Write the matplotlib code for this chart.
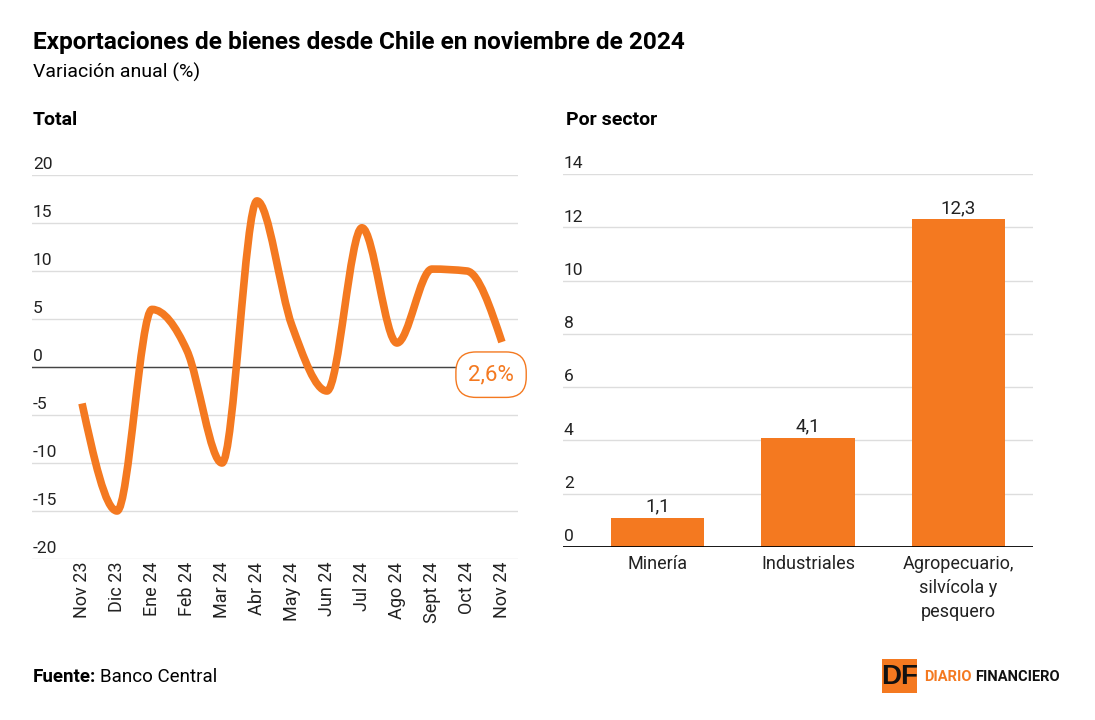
import numpy as np
import matplotlib
matplotlib.use("Agg")
import matplotlib.pyplot as plt
from matplotlib.path import Path
from matplotlib.patches import PathPatch, Rectangle

# data
months = ["Nov 23", "Dic 23", "Ene 24", "Feb 24", "Mar 24", "Abr 24", "May 24",
          "Jun 24", "Jul 24", "Ago 24", "Sept 24", "Oct 24", "Nov 24"]
total = [-3.8, -15.0, 6.0, 1.7, -10.0, 17.3, 4.3, -2.5, 14.5, 2.5, 10.2, 10.0, 2.6]
sectors = ["Minería", "Industriales", "Agropecuario,\nsilvícola y\npesquero"]
sector_vals = [1.1, 4.1, 12.3]
last_label = "2,6%"

ORANGE = "#F47920"
GRID = "#dddddd"
REG = ["Roboto", "DejaVu Sans"]


def monotone_path(x, y):
    # monotone cubic (like d3 curveMonotoneX) built as bezier segments
    x = np.asarray(x, float)
    y = np.asarray(y, float)
    h = np.diff(x)
    s = np.diff(y) / h
    n = len(x)
    t = np.zeros(n)
    for i in range(1, n - 1):
        p = (s[i-1] * h[i] + s[i] * h[i-1]) / (h[i-1] + h[i])
        t[i] = (np.sign(s[i-1]) + np.sign(s[i])) * min(abs(s[i-1]), abs(s[i]), 0.5 * abs(p))
    t[0] = (3 * s[0] - t[1]) / 2
    t[-1] = (3 * s[-1] - t[-2]) / 2
    verts = [(x[0], y[0])]
    codes = [Path.MOVETO]
    for i in range(n - 1):
        d = h[i] / 3
        verts += [(x[i] + d, y[i] + d * t[i]), (x[i+1] - d, y[i+1] - d * t[i+1]), (x[i+1], y[i+1])]
        codes += [Path.CURVE4] * 3
    return Path(verts, codes)


fig = plt.figure(figsize=(10.95, 7.2), dpi=100)
W, H = 1095, 720

def fx(px):
    return px / W

def fy(py):
    return 1 - py / H

fig.text(fx(33), fy(42), "Exportaciones de bienes desde Chile en noviembre de 2024",
         family=REG, weight="bold", fontsize=17.6, va="center", ha="left")
fig.text(fx(33), fy(72), "Variación anual (%)", family=REG, fontsize=14, va="center", ha="left")
fig.text(fx(33), fy(120), "Total", family=REG, weight="bold", fontsize=14, va="center")
fig.text(fx(566), fy(120), "Por sector", family=REG, weight="bold", fontsize=14, va="center")
fig.text(fx(33), fy(677), "Fuente:", family=REG, weight="bold", fontsize=13.5, va="center")
fig.text(fx(100), fy(677), "Banco Central", family=REG, fontsize=13.5, va="center")

# logo
fig.patches.append(Rectangle((fx(882), fy(693)), fx(35), 34 / H, transform=fig.transFigure,
                             facecolor=ORANGE, edgecolor="none"))
fig.text(fx(899.5), fy(677), "DF", family=["Liberation Sans", "DejaVu Sans"], weight="bold",
         fontsize=20, ha="center", va="center", color="#111111")
fig.text(fx(924), fy(677), "DIARIO", family=REG, weight="bold",
         fontsize=10.5, ha="left", va="center", color=ORANGE)
fig.text(fx(975), fy(677), "FINANCIERO", family=REG, weight="bold",
         fontsize=10.5, ha="left", va="center", color="#111111")

# left: line chart
ax = fig.add_axes([fx(32), fy(559), fx(518 - 32), (559 - 175) / H])
x = np.arange(len(months))
ax.set_xlim(-1.43, 12.46)
ax.set_ylim(-20, 20)
for v in range(-20, 21, 5):
    ax.axhline(v, color=GRID, lw=1, zorder=0)
    ax.text(0.002, v + 0.35, str(v), transform=ax.get_yaxis_transform(), family=REG,
            fontsize=12.5, ha="left", va="bottom", color="#222222")
ax.axhline(0, color="#444444", lw=1, zorder=1)
ax.add_patch(PathPatch(monotone_path(x, total), facecolor="none", edgecolor=ORANGE,
                       lw=5.5, capstyle="butt", joinstyle="round", zorder=3))
ax.text(x[-1] - 0.31, -0.8, last_label, family=REG, fontsize=16, color=ORANGE,
        ha="center", va="center", zorder=5,
        bbox=dict(boxstyle="round,pad=0.55,rounding_size=0.9", facecolor="white",
                  edgecolor=ORANGE, lw=1))
ax.set_xticks(x)
ax.set_xticklabels(months, rotation=90, family=REG, fontsize=13, color="#222222")
ax.tick_params(axis="x", length=0, pad=2)
ax.set_yticks([])
for sp in ax.spines.values():
    sp.set_visible(False)

# right: bar chart
bx = fig.add_axes([fx(563), fy(547), fx(1033 - 563), (547 - 174) / H])
xb = np.arange(len(sectors))
bx.set_xlim(-0.628, 2.495)
bx.set_ylim(0, 14)
for v in range(2, 15, 2):
    bx.axhline(v, color=GRID, lw=1, zorder=0)
for v in range(0, 15, 2):
    bx.text(0.002, v + 0.1, str(v), transform=bx.get_yaxis_transform(), family=REG,
            fontsize=12.5, ha="left", va="bottom", color="#222222")
bars = bx.bar(xb, sector_vals, width=0.62, color=ORANGE, zorder=2)
for b, v in zip(bars, sector_vals):
    bx.text(b.get_x() + b.get_width() / 2, v + 0.08, f"{v:.1f}".replace(".", ","),
            family=REG, fontsize=13.5, ha="center", va="bottom", color="#222222")
bx.axhline(0, color="black", lw=2, zorder=3)
bx.set_xticks(xb)
bx.set_xticklabels(sectors, family=REG, fontsize=13, color="#222222", linespacing=1.4)
bx.tick_params(axis="x", length=0, pad=6)
bx.set_yticks([])
for sp in bx.spines.values():
    sp.set_visible(False)

fig.savefig("out.png", dpi=100)
